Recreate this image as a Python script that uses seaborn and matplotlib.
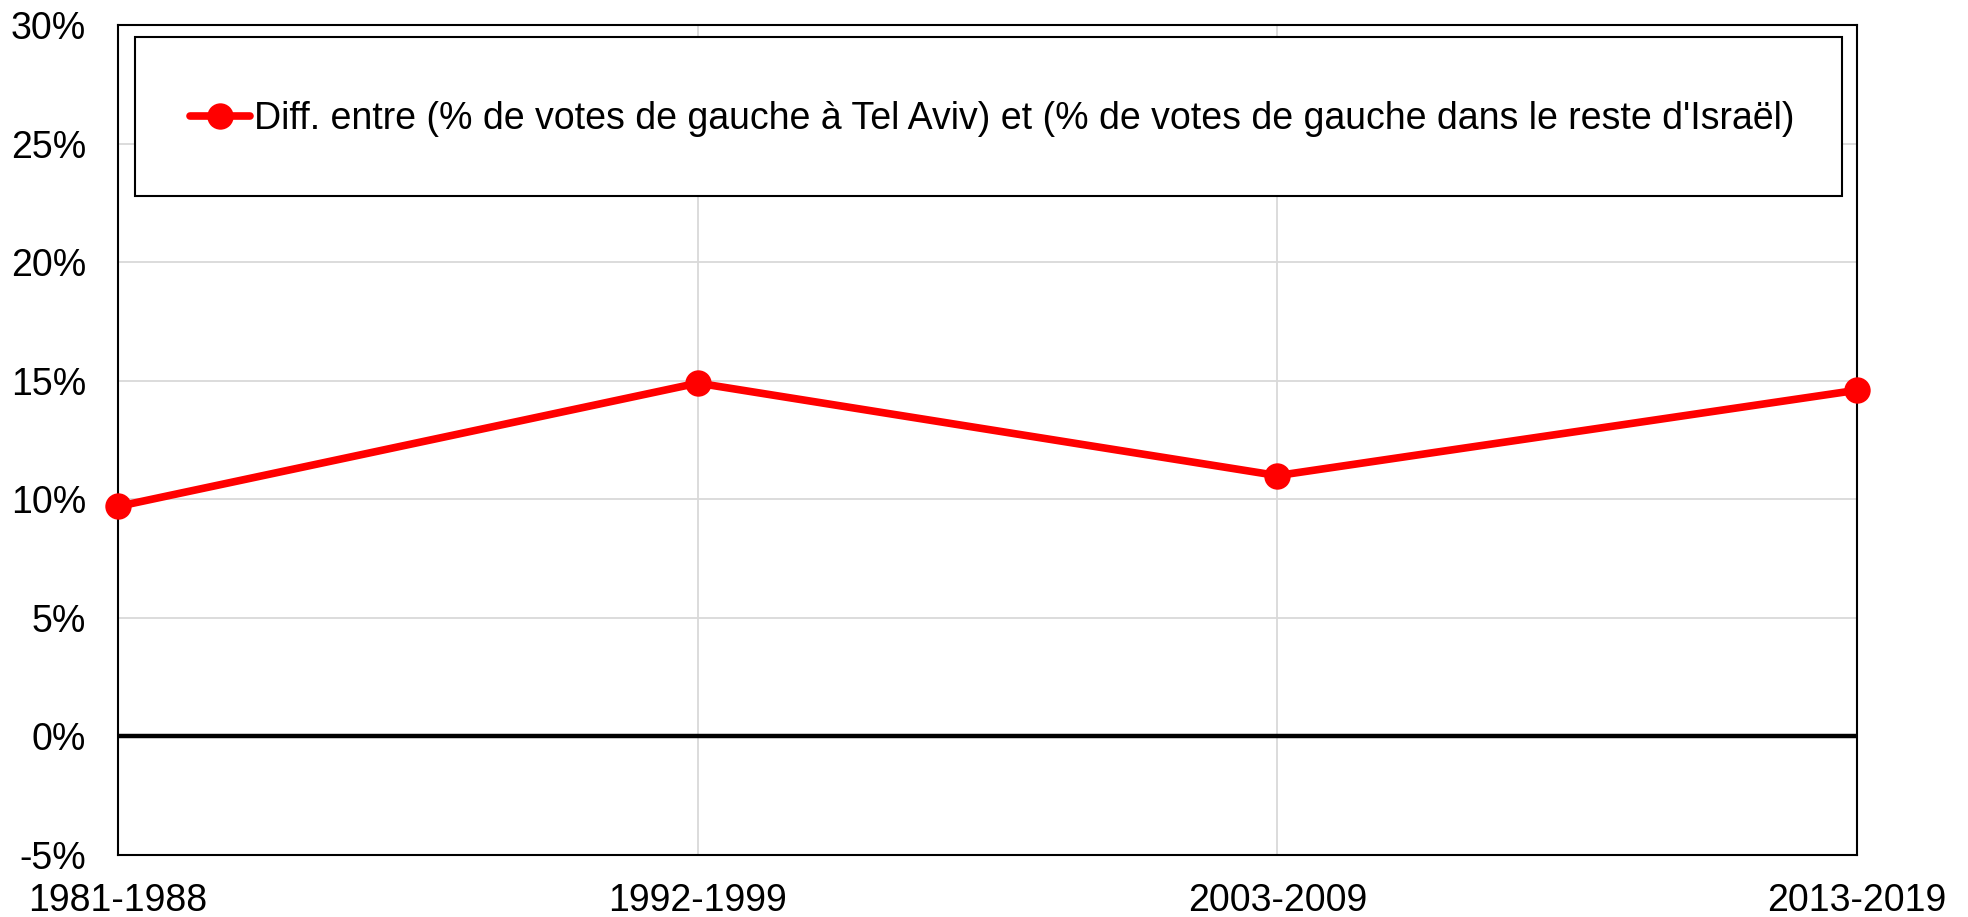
import numpy as np
import pandas as pd
import matplotlib
matplotlib.use("Agg")
import matplotlib.pyplot as plt
import seaborn as sns
from matplotlib.patches import Rectangle

# Data
periods = ["1981-1988", "1992-1999", "2003-2009", "2013-2019"]
diff_pct = [9.7, 14.9, 11.0, 14.6]
y_ticks = [-5, 0, 5, 10, 15, 20, 25, 30]
series_label = "Diff. entre (% de votes de gauche à Tel Aviv) et (% de votes de gauche dans le reste d'Israël)"

df = pd.DataFrame({"Période": periods, "Diff": diff_pct})

sns.set_style("whitegrid")
plt.rcParams["font.family"] = ["Liberation Sans", "DejaVu Sans"]

fig = plt.figure(figsize=(19.68, 9.17), dpi=100)
ax = fig.add_axes([0.0600, 0.0676, 0.8836, 0.9051])

sns.lineplot(data=df, x="Période", y="Diff", color="#ff0000", linewidth=5.5,
             marker="o", markersize=19, markeredgewidth=0, label=series_label,
             ax=ax, zorder=5, clip_on=False)

ax.axhline(0, color="black", linewidth=3.2, zorder=4)

ax.set_xlim(0, len(periods) - 1)
ax.set_ylim(-5, 30)
ax.set_yticks(y_ticks)
ax.set_yticklabels([f"{v}%" for v in y_ticks])
ax.set_xticks(range(len(periods)))
ax.set_xticklabels(periods)
ax.set_xlabel("")
ax.set_ylabel("")

ax.grid(True, color="#d9d9d9", linewidth=1.3)
ax.tick_params(axis="both", length=0, labelsize=27, colors="black")
ax.tick_params(axis="y", pad=23)
ax.tick_params(axis="x", pad=20)
for s in ax.spines.values():
    s.set_color("black")
    s.set_linewidth(1.5)
    s.set_visible(True)

# legend box
box = Rectangle((135 / 1968, 1 - 196 / 917), 1707 / 1968, 159 / 917,
                transform=fig.transFigure, facecolor="white",
                edgecolor="black", linewidth=1.5, zorder=8, clip_on=False)
ax.add_patch(box)
leg = ax.legend(loc="center left", bbox_to_anchor=(190 / 1968, 1 - 119 / 917),
                bbox_transform=fig.transFigure, frameon=False, fontsize=27,
                handlelength=1.6, handletextpad=0.1, borderpad=0, borderaxespad=0,
                labelcolor="black")
leg.set_zorder(9)

plt.savefig("out.png", dpi=100)
